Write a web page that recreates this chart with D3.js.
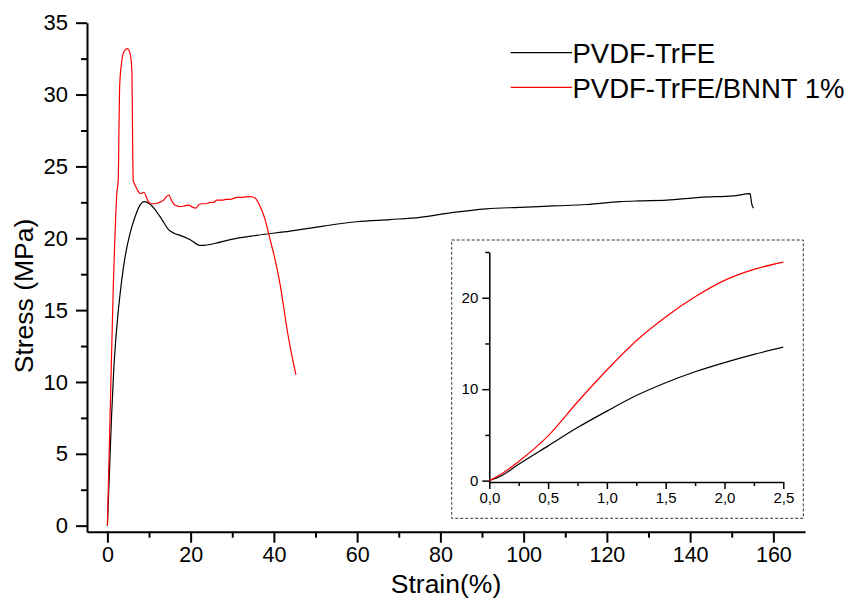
<!DOCTYPE html>
<html>
<head>
<meta charset="utf-8">
<script src="https://cdn.jsdelivr.net/npm/d3@7/dist/d3.min.js"></script>
<style>
  body { margin: 0; background: #fff; }
  text { font-family: "Liberation Sans", Arial, sans-serif; }
</style>
</head>
<body>
<script>
// stress-strain curves, values
var blackStrain = [0, 0.5, 1.0, 1.5, 2.0, 2.5, 3.0, 3.45, 4.25, 5.45, 6.65, 7.85, 8.8, 10.1, 11.45, 13.1, 14.7, 16.0, 17.5, 19.9, 22.3, 23.1, 26, 29.5, 35.9, 43.9, 51.9, 59.9, 67.9, 75.1, 83.1, 91.1, 99.1, 107.1, 115.2, 123.2, 127.6, 134.4, 142.4, 150.4, 154.4, 154.8, 155.2];
var blackStress = [0, 3.8, 7.6, 10.7, 12.9, 14.6, 16.0, 17.1, 18.7, 20.35, 21.5, 22.3, 22.55, 22.4, 22.0, 21.3, 20.6, 20.35, 20.2, 19.9, 19.5, 19.5, 19.65, 19.9, 20.2, 20.5, 20.85, 21.15, 21.3, 21.45, 21.8, 22.05, 22.15, 22.25, 22.35, 22.55, 22.6, 22.65, 22.85, 22.95, 23.1, 22.4, 22.1];

var redStrain = [0, 0.7, 1.45, 1.85, 2.25, 2.6, 2.8, 2.95, 3.4, 4.0, 4.8, 5.5, 5.9, 6.05, 6.2, 6.5, 6.8, 7.45, 7.9, 8.8, 9.3, 9.85, 10.5, 11.5, 12.5, 13.5, 14.2, 14.8, 15.3, 15.9, 16.7, 17.5, 18.5, 19.5, 20.5, 21.3, 22.0, 22.7, 23.7, 24.7, 25.5, 26.3, 27.5, 28.5, 29.5, 31.1, 32.5, 34.3, 35.5, 36.2, 36.7, 37.3, 37.9, 38.5, 39.1, 40.3, 41.3, 42.3, 43.2, 44.2, 45.3];
var redStress = [0, 8.3, 17.0, 20.4, 23.1, 24.0, 28.0, 30.6, 32.2, 33.0, 33.2, 32.8, 31.5, 27.0, 24.0, 23.8, 23.6, 23.25, 23.1, 23.2, 22.9, 22.55, 22.4, 22.4, 22.5, 22.65, 22.9, 23.0, 22.7, 22.4, 22.25, 22.2, 22.25, 22.3, 22.15, 22.1, 22.35, 22.4, 22.4, 22.5, 22.5, 22.65, 22.65, 22.7, 22.7, 22.85, 22.85, 22.9, 22.8, 22.5, 22.2, 21.8, 21.3, 20.6, 19.9, 18.5, 17.1, 15.3, 13.6, 12.0, 10.5];

// inset: first 2.5 % of strain
var insetStrain = [0, 0.1, 0.25, 0.5, 0.75, 1.0, 1.25, 1.5, 1.75, 2.0, 2.25, 2.5];
var insetBlack = [0, 0.5, 1.8, 3.8, 5.8, 7.6, 9.3, 10.7, 11.9, 12.9, 13.8, 14.6];
var insetRed = [0, 0.7, 2.1, 4.9, 8.6, 12.1, 15.3, 17.9, 20.1, 21.9, 23.1, 23.9];

var seriesNames = ["PVDF-TrFE", "PVDF-TrFE/BNNT 1%"];
var colors = ["#000000", "#ff0000"];

var xMajor = [0, 20, 40, 60, 80, 100, 120, 140, 160];
var xMinor = [10, 30, 50, 70, 90, 110, 130, 150];
var yMajor = [0, 5, 10, 15, 20, 25, 30, 35];
var yMinor = [2.5, 7.5, 12.5, 17.5, 22.5, 27.5, 32.5];
var insetXMajor = [0, 0.5, 1.0, 1.5, 2.0, 2.5];
var insetXMinor = [0.25, 0.75, 1.25, 1.75, 2.25];
var insetYMajor = [0, 10, 20];
var insetYMinor = [5, 15, 25];

function zip(xs, ys) { return xs.map(function(d, i) { return [d, ys[i]]; }); }

var svg = d3.select("body").append("svg")
    .attr("width", 850)
    .attr("height", 601);

var x = d3.scaleLinear().domain([-4.9, 167.6]).range([87, 805]);
var y = d3.scaleLinear().domain([-0.42, 35]).range([531.7, 22.7]);

function axisStyle(g, w, fs) {
    g.selectAll(".domain").attr("stroke-width", w);
    g.selectAll(".tick line").attr("stroke-width", w);
    g.selectAll(".tick text").style("font-size", fs + "px").attr("fill", "#000");
}

var gx = svg.append("g").attr("transform", "translate(0,531.7)")
    .call(d3.axisBottom(x).tickValues(xMajor).tickSize(11).tickSizeOuter(0).tickPadding(4));
axisStyle(gx, 2, 21.5);
var gxm = svg.append("g").attr("transform", "translate(0,531.7)")
    .call(d3.axisBottom(x).tickValues(xMinor).tickSize(6).tickFormat(""));
gxm.select(".domain").remove();
axisStyle(gxm, 2, 21.5);

var gy = svg.append("g").attr("transform", "translate(87,0)")
    .call(d3.axisLeft(y).tickValues(yMajor).tickSize(11).tickSizeOuter(0).tickPadding(8));
axisStyle(gy, 2, 22);
var gym = svg.append("g").attr("transform", "translate(87,0)")
    .call(d3.axisLeft(y).tickValues(yMinor).tickSize(6).tickFormat(""));
gym.select(".domain").remove();
axisStyle(gym, 2, 22);

svg.append("text").attr("x", 446).attr("y", 593).attr("text-anchor", "middle")
    .style("font-size", "26.5px").text("Strain(%)");
svg.append("text").attr("transform", "translate(33,296) rotate(-90)").attr("text-anchor", "middle")
    .style("font-size", "26.5px").text("Stress (MPa)");

var line = d3.line()
    .x(function(d) { return x(d[0]); })
    .y(function(d) { return y(d[1]); })
    .curve(d3.curveMonotoneX);

svg.append("path").datum(zip(blackStrain, blackStress))
    .attr("fill", "none").attr("stroke", colors[0]).attr("stroke-width", 1.2).attr("d", line);
svg.append("path").datum(zip(redStrain, redStress))
    .attr("fill", "none").attr("stroke", colors[1]).attr("stroke-width", 1.2).attr("d", line);

// legend
var legend = svg.append("g").selectAll("g").data(seriesNames).enter().append("g")
    .attr("transform", function(d, i) { return "translate(0," + (52.7 + i * 34.6) + ")"; });
legend.append("line").attr("x1", 510.7).attr("x2", 572)
    .attr("stroke", function(d, i) { return colors[i]; }).attr("stroke-width", 1.2);
legend.append("text").attr("x", 572.5).attr("y", 10.6).style("font-size", "27.5px")
    .text(function(d) { return d; });

// inset
svg.append("rect").attr("x", 451.7).attr("y", 240).attr("width", 351.6).attr("height", 278.3)
    .attr("fill", "#fff").attr("stroke", "#333").attr("stroke-width", 1).attr("stroke-dasharray", "3,2");

var ix = d3.scaleLinear().domain([0, 2.5]).range([489.3, 783.3]);
var iy = d3.scaleLinear().domain([-0.15, 25]).range([482, 252]);
var commaFmt = function(d) { return d3.format(".1f")(d).replace(".", ","); };

var igx = svg.append("g").attr("transform", "translate(0,482)")
    .call(d3.axisBottom(ix).tickValues(insetXMajor).tickSize(7).tickSizeOuter(0).tickPadding(3).tickFormat(commaFmt));
axisStyle(igx, 1.5, 15);
var igxm = svg.append("g").attr("transform", "translate(0,482)")
    .call(d3.axisBottom(ix).tickValues(insetXMinor).tickSize(4).tickFormat(""));
igxm.select(".domain").remove();
axisStyle(igxm, 1.5, 15);

var igy = svg.append("g").attr("transform", "translate(489.3,0)")
    .call(d3.axisLeft(iy).tickValues(insetYMajor).tickSize(7).tickSizeOuter(0).tickPadding(4));
axisStyle(igy, 1.5, 15);
var igym = svg.append("g").attr("transform", "translate(489.3,0)")
    .call(d3.axisLeft(iy).tickValues(insetYMinor).tickSize(4).tickFormat(""));
igym.select(".domain").remove();
axisStyle(igym, 1.5, 15);

var iline = d3.line()
    .x(function(d) { return ix(d[0]); })
    .y(function(d) { return iy(d[1]); })
    .curve(d3.curveMonotoneX);

svg.append("path").datum(zip(insetStrain, insetBlack))
    .attr("fill", "none").attr("stroke", colors[0]).attr("stroke-width", 1.2).attr("d", iline);
svg.append("path").datum(zip(insetStrain, insetRed))
    .attr("fill", "none").attr("stroke", colors[1]).attr("stroke-width", 1.2).attr("d", iline);
</script>
</body>
</html>
